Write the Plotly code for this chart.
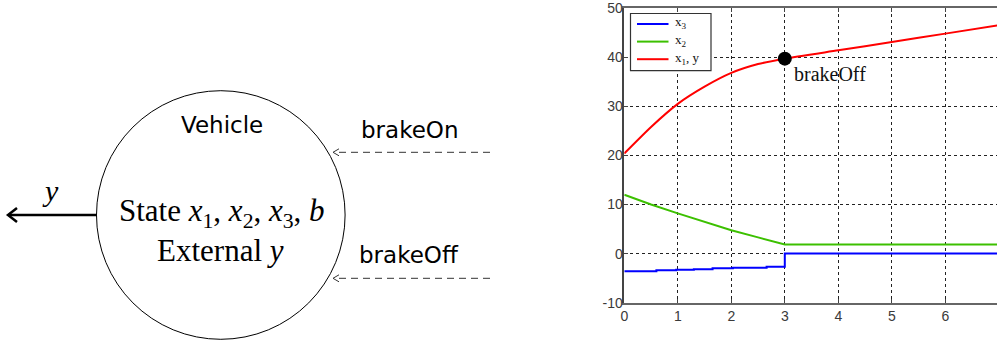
import plotly.graph_objects as go

# ---------------- data ----------------
t_x1 = [0, 0.5, 1, 1.5, 2, 2.5, 3, 4, 5, 6, 7]
x1_vals = [20.4, 25.8, 30.5, 34.0, 36.8, 38.6, 39.7, 41.4, 43.1, 44.8, 46.5]

t_x2 = [0, 0.5, 1, 1.5, 2, 2.5, 3, 7]
x2_vals = [12.0, 10.0, 8.2, 6.4, 4.75, 3.3, 1.84, 1.84]

t_x3 = [0, 0.6, 0.97, 1.3, 1.65, 2.03, 2.66, 3.0, 7]
x3_vals = [-3.6, -3.4, -3.3, -3.2, -3.0, -2.9, -2.7, 0.0, 0.0]

event_t = [3]
event_y = [39.7]
event_label = "brakeOff"

x_ticks = [0, 1, 2, 3, 4, 5, 6, 7]
x_tick_text = ["0", "1", "2", "3", "4", "5", "6", "7"]
y_ticks = [-10, 0, 10, 20, 30, 40, 50]
y_tick_text = ["-10", "0", "10", "20", "30", "40", "50"]

names = ["x<sub>3</sub>", "x<sub>2</sub>", "x<sub>1</sub>, y"]
colors = ["#0000ff", "#3cc000", "#ff0000"]

W, H = 997, 345
SERIF = "Liberation Serif, Times New Roman, serif"
SANS = "DejaVu Sans, sans-serif"

fig = go.Figure()

fig.add_trace(go.Scatter(x=t_x3, y=x3_vals, mode="lines", name=names[0],
                         line=dict(color=colors[0], width=2, shape="hv")))
fig.add_trace(go.Scatter(x=t_x2, y=x2_vals, mode="lines", name=names[1],
                         line=dict(color=colors[1], width=2)))
fig.add_trace(go.Scatter(x=t_x1, y=x1_vals, mode="lines", name=names[2],
                         line=dict(color=colors[2], width=2, shape="spline", smoothing=0.6)))
fig.add_trace(go.Scatter(x=event_t, y=event_y, mode="markers", name=event_label,
                         marker=dict(color="black", size=14)))

# invisible trace to instantiate the diagram axes
fig.add_trace(go.Scatter(x=[0, 498], y=[0, 345], xaxis="x2", yaxis="y2", mode="markers",
                         marker=dict(opacity=0), hoverinfo="skip"))

# chart geometry (pixels)
px_left, px_right = 624.3, 997.0
px_top, px_bottom = 8.1, 302.7
unit_x = 53.5
x_max = (px_right - px_left) / unit_x

grid = dict(showgrid=True, gridcolor="#222", griddash="3px,3px", gridwidth=1)
tickfont = dict(family="Liberation Sans, Arial, sans-serif", size=14, color="#3a3a3a")

fig.update_layout(
    width=W, height=H,
    margin=dict(l=0, r=0, t=0, b=0, autoexpand=False),
    paper_bgcolor="white", plot_bgcolor="white",
    showlegend=False,
    xaxis=dict(domain=[px_left / W, 1.0], range=[0, x_max],
               tickmode="array", tickvals=x_ticks, ticktext=x_tick_text,
               ticks="inside", ticklen=4, tickcolor="#444", automargin=False,
               showline=True, linecolor="#666", linewidth=1.5, mirror="ticks",
               zeroline=False, tickfont=tickfont, **grid),
    yaxis=dict(domain=[1 - px_bottom / H, 1 - px_top / H], range=[-10, 50],
               tickmode="array", tickvals=y_ticks, ticktext=y_tick_text,
               ticks="inside", ticklen=4, tickcolor="#444", automargin=False,
               ticklabelstandoff=-3,
               showline=True, linecolor="#444", linewidth=1.5,
               zeroline=False, tickfont=tickfont, **grid),
    xaxis2=dict(domain=[0, 498 / W], range=[0, 498], visible=False, fixedrange=True,
                anchor="y2", automargin=False),
    yaxis2=dict(domain=[0, 1], range=[345, 0], visible=False, fixedrange=True,
                anchor="x2", automargin=False),
)

annotations = [
    dict(x=3.13, y=36.6, xref="x", yref="y", text=event_label, showarrow=False,
         xanchor="left", yanchor="middle", font=dict(family=SERIF, size=20, color="#111")),
]

# ---------------- legend box (drawn in pixel terms on the paper) ----------------
def px_x(p):
    return p / W

def px_y(p):
    return 1 - p / H

shapes = [
    dict(type="rect", xref="paper", yref="paper", x0=px_x(630.5), x1=px_x(711),
         y0=px_y(13.5), y1=px_y(70.7), line=dict(color="#333", width=1.2),
         fillcolor="white", layer="above"),
]
annotations_leg = []
for i, (nm, col) in enumerate(zip(names, colors)):
    yy = 24 + 17.6 * i
    shapes.append(dict(type="line", xref="paper", yref="paper", x0=px_x(637), x1=px_x(668.5),
                       y0=px_y(yy), y1=px_y(yy), line=dict(color=col, width=2), layer="above"))
    annotations_leg.append(dict(x=px_x(673), y=px_y(yy - 1), xref="paper", yref="paper",
                                text=nm, showarrow=False, xanchor="left", yanchor="middle",
                                font=dict(family=SERIF, size=13, color="#111")))
annotations += annotations_leg

# ---------------- left diagram ----------------
cx, cy, r = 220.8, 215.0, 124.3
shapes += [
    dict(type="circle", xref="x2", yref="y2", x0=cx - r, x1=cx + r, y0=cy - r, y1=cy + r,
         line=dict(color="black", width=1)),
    # output arrow y
    dict(type="line", xref="x2", yref="y2", x0=cx - r, x1=9, y0=cy, y1=cy,
         line=dict(color="black", width=2.5)),
    dict(type="path", xref="x2", yref="y2", path=f"M 17,{cy-7} L 8,{cy} L 17,{cy+7}",
         line=dict(color="black", width=2.5)),
]
for yy in (152.3, 278.3):
    shapes.append(dict(type="line", xref="x2", yref="y2", x0=490, x1=334, y0=yy, y1=yy,
                       line=dict(color="#333", width=1, dash="7px,5px")))
    shapes.append(dict(type="path", xref="x2", yref="y2",
                       path=f"M 339,{yy-3.5} L 333,{yy} L 339,{yy+3.5}",
                       line=dict(color="#333", width=1)))

annotations += [
    dict(x=221.5, y=125, xref="x2", yref="y2", text="Vehicle", showarrow=False,
         font=dict(family=SANS, size=23, color="black")),
    dict(x=409, y=130, xref="x2", yref="y2", text="brakeOn", showarrow=False,
         font=dict(family=SANS, size=23, color="black")),
    dict(x=409, y=255, xref="x2", yref="y2", text="brakeOff", showarrow=False,
         font=dict(family=SANS, size=23, color="black")),
    dict(x=221.5, y=213, xref="x2", yref="y2",
         text="State <i>x</i><sub>1</sub>, <i>x</i><sub>2</sub>, <i>x</i><sub>3</sub>, <i>b</i>",
         showarrow=False, font=dict(family=SERIF, size=31, color="black")),
    dict(x=220, y=250, xref="x2", yref="y2", text="External <i>y</i>", showarrow=False,
         font=dict(family=SERIF, size=31, color="black")),
    dict(x=50, y=190, xref="x2", yref="y2", text="<i>y</i>", showarrow=False,
         font=dict(family=SERIF, size=30, color="black")),
]

fig.update_layout(shapes=shapes, annotations=annotations)
fig.write_html("out.html")
